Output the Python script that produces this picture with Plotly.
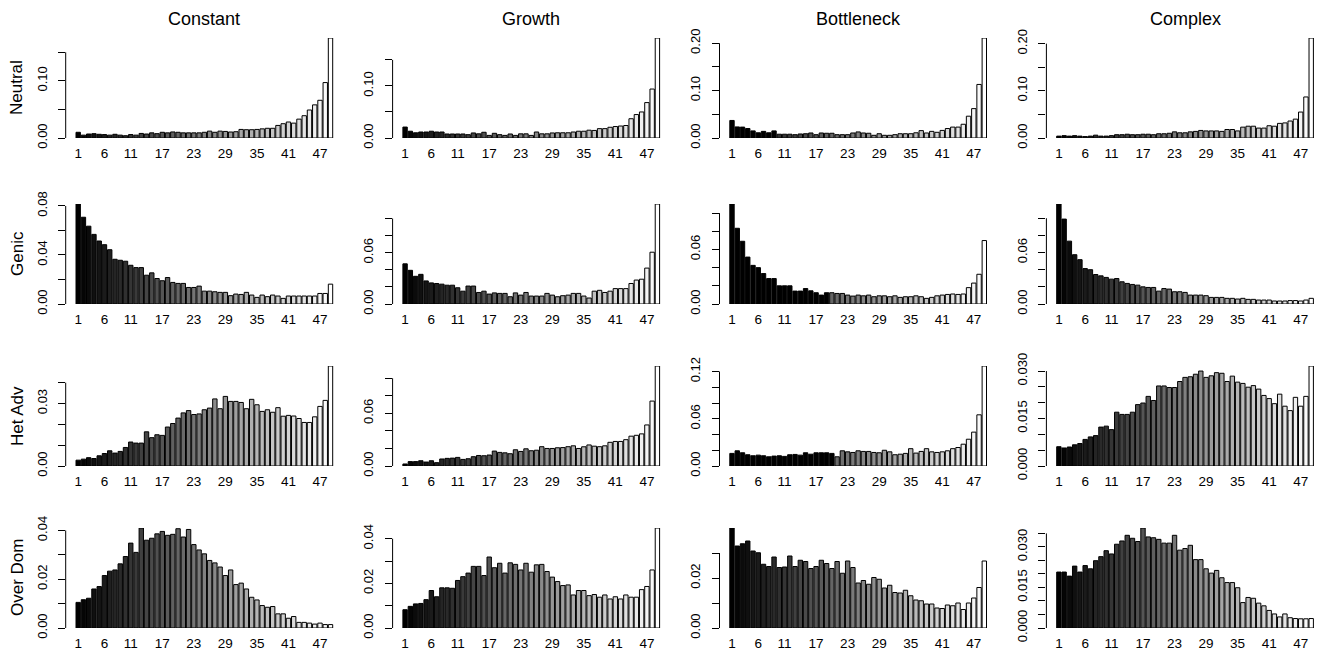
import plotly.graph_objects as go

# ---------------- data ----------------
bins = list(range(1, 50))
x_tick_values = [1, 6, 11, 17, 23, 29, 35, 41, 47]
column_titles = ["Constant", "Growth", "Bottleneck", "Complex"]
row_titles = ["Neutral", "Genic", "Het Adv", "Over Dom"]

neutral_constant = [0.010, 0.005, 0.007, 0.0076, 0.0065, 0.006, 0.005, 0.0065, 0.005, 0.004,
                    0.006, 0.005, 0.008, 0.007, 0.009, 0.0076, 0.010, 0.009, 0.0106, 0.010,
                    0.009, 0.009, 0.009, 0.009, 0.010, 0.012, 0.010, 0.012, 0.0115, 0.0105,
                    0.011, 0.015, 0.0145, 0.0145, 0.015, 0.016, 0.017, 0.017, 0.022, 0.025,
                    0.028, 0.026, 0.033, 0.039, 0.049, 0.058, 0.066, 0.097, 0.175]
neutral_growth = [0.021, 0.013, 0.010, 0.0115, 0.0115, 0.013, 0.0115, 0.0115, 0.0077, 0.0077,
                  0.0077, 0.0077, 0.0064, 0.0097, 0.008, 0.011, 0.005, 0.009, 0.0064, 0.005,
                  0.0077, 0.005, 0.008, 0.008, 0.005, 0.0115, 0.008, 0.008, 0.0097, 0.010,
                  0.010, 0.010, 0.0115, 0.013, 0.013, 0.015, 0.0145, 0.018, 0.018, 0.0206,
                  0.022, 0.023, 0.024, 0.037, 0.045, 0.050, 0.068, 0.094, 0.192]
neutral_bottleneck = [0.037, 0.0234, 0.023, 0.020, 0.015, 0.011, 0.014, 0.011, 0.015, 0.008,
                      0.008, 0.008, 0.007, 0.0085, 0.009, 0.0106, 0.007, 0.0106, 0.010, 0.010,
                      0.007, 0.007, 0.007, 0.0106, 0.0128, 0.0106, 0.010, 0.0057, 0.009, 0.0057,
                      0.0057, 0.007, 0.009, 0.009, 0.009, 0.011, 0.0156, 0.0106, 0.014, 0.012,
                      0.016, 0.020, 0.023, 0.023, 0.029, 0.046, 0.062, 0.113, 0.211]
neutral_complex = [0.004, 0.005, 0.004, 0.005, 0.004, 0.003, 0.004, 0.006, 0.004, 0.004,
                   0.005, 0.007, 0.007, 0.008, 0.007, 0.007, 0.008, 0.008, 0.007, 0.009,
                   0.009, 0.010, 0.013, 0.011, 0.011, 0.013, 0.014, 0.016, 0.015, 0.015,
                   0.015, 0.014, 0.018, 0.018, 0.015, 0.023, 0.025, 0.025, 0.021, 0.021,
                   0.026, 0.025, 0.031, 0.032, 0.036, 0.040, 0.055, 0.087, 0.212]

genic_constant = [0.0816, 0.0708, 0.0635, 0.0568, 0.0514, 0.0484, 0.0443, 0.0365, 0.0357, 0.0349,
                  0.0316, 0.0297, 0.0297, 0.0235, 0.0254, 0.0208, 0.019, 0.0216, 0.0176, 0.0168,
                  0.0168, 0.0135, 0.0135, 0.0146, 0.0105, 0.0105, 0.010, 0.0095, 0.0095, 0.0068,
                  0.0081, 0.0078, 0.0095, 0.0073, 0.0054, 0.0073, 0.006, 0.0073, 0.0065, 0.0046,
                  0.0065, 0.0065, 0.0065, 0.0065, 0.0065, 0.0065, 0.0086, 0.0086, 0.0162]
genic_growth = [0.047, 0.0394, 0.0324, 0.0347, 0.027, 0.0247, 0.024, 0.0232, 0.022, 0.022,
                0.019, 0.015, 0.021, 0.021, 0.0135, 0.015, 0.0116, 0.013, 0.0124, 0.0124,
                0.0085, 0.013, 0.0104, 0.0135, 0.0093, 0.0093, 0.0093, 0.0124, 0.0104, 0.0085,
                0.0097, 0.0104, 0.0124, 0.0124, 0.0093, 0.007, 0.015, 0.016, 0.0135, 0.015,
                0.018, 0.018, 0.018, 0.024, 0.028, 0.029, 0.042, 0.0606, 0.117]
genic_bottleneck = [0.110, 0.0833, 0.069, 0.0516, 0.0425, 0.040, 0.0335, 0.028, 0.028, 0.020,
                    0.020, 0.020, 0.0142, 0.0142, 0.017, 0.0145, 0.0124, 0.0098, 0.0124, 0.0124,
                    0.0116, 0.0116, 0.0098, 0.0087, 0.0098, 0.009, 0.0098, 0.008, 0.009, 0.009,
                    0.008, 0.009, 0.0073, 0.008, 0.008, 0.009, 0.008, 0.0062, 0.0073, 0.009,
                    0.0098, 0.0105, 0.011, 0.0105, 0.011, 0.018, 0.023, 0.0327, 0.0698]
genic_complex = [0.1166, 0.099, 0.0733, 0.0575, 0.0517, 0.0413, 0.040, 0.0344, 0.0328, 0.031,
                 0.029, 0.0297, 0.0259, 0.024, 0.0228, 0.022, 0.020, 0.0193, 0.0193, 0.015,
                 0.018, 0.0174, 0.0143, 0.0143, 0.0135, 0.0104, 0.0104, 0.0104, 0.0097, 0.0077,
                 0.0077, 0.0077, 0.0066, 0.0066, 0.0058, 0.0066, 0.0054, 0.0054, 0.0046, 0.0046,
                 0.0046, 0.0035, 0.0035, 0.0035, 0.004, 0.004, 0.0035, 0.0046, 0.0066]

hetadv_constant = [0.0028, 0.0033, 0.004, 0.0036, 0.0049, 0.006, 0.0073, 0.0062, 0.007, 0.0089,
                   0.0115, 0.011, 0.011, 0.0164, 0.0136, 0.015, 0.0147, 0.0187, 0.0204, 0.023,
                   0.0255, 0.0266, 0.0247, 0.025, 0.027, 0.0278, 0.0322, 0.0275, 0.0334, 0.031,
                   0.031, 0.0305, 0.0275, 0.032, 0.0294, 0.0262, 0.027, 0.0258, 0.028, 0.0239,
                   0.0243, 0.024, 0.0228, 0.0209, 0.0209, 0.0236, 0.0286, 0.0315, 0.048]
hetadv_growth = [0.0023, 0.005, 0.005, 0.006, 0.0045, 0.006, 0.0038, 0.008, 0.0087, 0.009,
                 0.0098, 0.0075, 0.0083, 0.0106, 0.012, 0.0117, 0.0125, 0.017, 0.0155, 0.015,
                 0.014, 0.0185, 0.0166, 0.0196, 0.0174, 0.018, 0.022, 0.020, 0.020, 0.0208,
                 0.021, 0.022, 0.023, 0.020, 0.0219, 0.024, 0.0226, 0.022, 0.023, 0.027,
                 0.028, 0.028, 0.030, 0.034, 0.035, 0.0366, 0.0468, 0.074, 0.114]
hetadv_bottleneck = [0.016, 0.0193, 0.0168, 0.0143, 0.013, 0.0138, 0.013, 0.0117, 0.0126, 0.013,
                     0.0122, 0.0143, 0.0147, 0.0138, 0.0168, 0.015, 0.0168, 0.0168, 0.0168, 0.016,
                     0.0117, 0.0193, 0.018, 0.0172, 0.0193, 0.0185, 0.0185, 0.0172, 0.0168, 0.020,
                     0.018, 0.0143, 0.015, 0.016, 0.022, 0.0164, 0.0185, 0.022, 0.018, 0.0172,
                     0.018, 0.0193, 0.022, 0.0235, 0.0277, 0.034, 0.043, 0.065, 0.127]
hetadv_complex = [0.0061, 0.0057, 0.006, 0.0067, 0.0071, 0.0084, 0.0092, 0.0096, 0.0123, 0.0126,
                  0.0115, 0.017, 0.0163, 0.0163, 0.017, 0.0194, 0.0199, 0.022, 0.0207, 0.0253,
                  0.0253, 0.0248, 0.0248, 0.0267, 0.028, 0.0282, 0.029, 0.030, 0.028, 0.0285,
                  0.0295, 0.0293, 0.0267, 0.0284, 0.0265, 0.0261, 0.0249, 0.0254, 0.0243, 0.0223,
                  0.0213, 0.0197, 0.0227, 0.0189, 0.0175, 0.0217, 0.0189, 0.022, 0.0316]

overdom_constant = [0.0105, 0.0116, 0.0122, 0.016, 0.017, 0.0215, 0.0233, 0.0238, 0.0263, 0.0293,
                    0.0348, 0.031, 0.041, 0.036, 0.0368, 0.0386, 0.0396, 0.038, 0.0384, 0.0407,
                    0.0373, 0.0404, 0.0342, 0.032, 0.0304, 0.0277, 0.0267, 0.025, 0.0215, 0.0238,
                    0.0178, 0.0184, 0.016, 0.0126, 0.0115, 0.0092, 0.0085, 0.0088, 0.0058, 0.0058,
                    0.004, 0.0047, 0.0023, 0.0023, 0.002, 0.0016, 0.002, 0.0014, 0.0014]
overdom_growth = [0.0082, 0.0097, 0.0108, 0.011, 0.0127, 0.0168, 0.014, 0.018, 0.018, 0.0178,
                  0.0213, 0.023, 0.0246, 0.0276, 0.0276, 0.0235, 0.0318, 0.027, 0.029, 0.0246,
                  0.0292, 0.0285, 0.026, 0.029, 0.025, 0.0283, 0.0285, 0.0253, 0.0228, 0.0208,
                  0.019, 0.0193, 0.0148, 0.0168, 0.0168, 0.0145, 0.015, 0.0138, 0.0148, 0.013,
                  0.014, 0.013, 0.0148, 0.0138, 0.0138, 0.0172, 0.0186, 0.026, 0.0448]
overdom_bottleneck = [0.040, 0.0328, 0.0337, 0.0348, 0.0308, 0.0301, 0.0255, 0.0246, 0.0284, 0.0242,
                      0.0244, 0.0288, 0.0246, 0.0271, 0.0266, 0.0238, 0.0246, 0.0271, 0.0258, 0.0238,
                      0.0266, 0.0219, 0.0268, 0.0242, 0.018, 0.019, 0.0175, 0.0202, 0.0195, 0.016,
                      0.0171, 0.0142, 0.014, 0.0151, 0.0129, 0.0112, 0.0109, 0.0096, 0.0096, 0.008,
                      0.0078, 0.0092, 0.0089, 0.010, 0.0074, 0.010, 0.012, 0.0162, 0.0268]
overdom_complex = [0.0207, 0.0207, 0.0192, 0.0229, 0.0207, 0.0231, 0.0219, 0.0249, 0.0264, 0.0286,
                   0.0274, 0.031, 0.0322, 0.0343, 0.0332, 0.032, 0.037, 0.0337, 0.0334, 0.0328,
                   0.0314, 0.0314, 0.0343, 0.0288, 0.0294, 0.0306, 0.0253, 0.0253, 0.0219, 0.0203,
                   0.0213, 0.0186, 0.0168, 0.0168, 0.0149, 0.0094, 0.0113, 0.011, 0.0092, 0.0082,
                   0.0065, 0.0052, 0.0041, 0.0052, 0.0038, 0.0035, 0.0034, 0.0034, 0.0035]

# y-axis ticks (values) and labels per panel (R-style skipped labels are blank)
ticks_neutral_a = [0.0, 0.05, 0.10, 0.15]
labels_neutral_a = ["0.00", "", "0.10", ""]
ticks_neutral_b = [0.0, 0.05, 0.10, 0.15, 0.20]
labels_neutral_b = ["0.00", "", "0.10", "", "0.20"]
ticks_008 = [0.0, 0.02, 0.04, 0.06, 0.08]
labels_008 = ["0.00", "", "0.04", "", "0.08"]
ticks_010 = [0.0, 0.02, 0.04, 0.06, 0.08, 0.10]
labels_010 = ["0.00", "", "", "0.06", "", ""]
ticks_004 = [0.0, 0.01, 0.02, 0.03, 0.04]
labels_004_het = ["0.00", "", "", "0.03", ""]
labels_004_od = ["0.00", "", "0.02", "", "0.04"]
ticks_012 = [0.0, 0.02, 0.04, 0.06, 0.08, 0.10, 0.12]
labels_012 = ["0.00", "", "", "0.06", "", "", "0.12"]
ticks_0030 = [0.0, 0.005, 0.010, 0.015, 0.020, 0.025, 0.030]
labels_0030 = ["0.000", "", "", "0.015", "", "", "0.030"]
ticks_003 = [0.0, 0.01, 0.02, 0.03]
labels_003 = ["0.00", "", "0.02", ""]
ticks_0035 = [0.0, 0.005, 0.010, 0.015, 0.020, 0.025, 0.030, 0.035]
labels_0035 = ["0.000", "", "", "0.015", "", "", "0.030", ""]

panel_values = [
    [neutral_constant, neutral_growth, neutral_bottleneck, neutral_complex],
    [genic_constant, genic_growth, genic_bottleneck, genic_complex],
    [hetadv_constant, hetadv_growth, hetadv_bottleneck, hetadv_complex],
    [overdom_constant, overdom_growth, overdom_bottleneck, overdom_complex],
]
panel_ticks = [
    [(ticks_neutral_a, labels_neutral_a), (ticks_neutral_a, labels_neutral_a),
     (ticks_neutral_b, labels_neutral_b), (ticks_neutral_b, labels_neutral_b)],
    [(ticks_008, labels_008), (ticks_010, labels_010), (ticks_010, labels_010), (ticks_010, labels_010)],
    [(ticks_004, labels_004_het), (ticks_010, labels_010), (ticks_012, labels_012), (ticks_0030, labels_0030)],
    [(ticks_004, labels_004_od), (ticks_004, labels_004_od), (ticks_003, labels_003), (ticks_0035, labels_0035)],
]

# ---------------- style ----------------
W, H = 1318, 654
FONT = "Liberation Sans, Arial, Helvetica, sans-serif"
black_lead = [[0, 0, 9, 0], [0, 0, 19, 0], [0, 0, 20, 0], [0, 0, 0, 0]]  # leading solid-black bars

col_bar_left = [76 + 326.9 * c for c in range(4)]   # px of first bar's left edge
bar_span_px = 256.7
row_base = [138, 304, 466, 628]                      # px of y=0
panel_h = 100
pad_px = 10.3
bar_w = 1 - 1 / 6
first_edge = 1 - bar_w / 2
units = 49 - 1 + bar_w
px_per_unit = bar_span_px / units


def grey(i, n, lead):
    if i < lead:
        return "rgb(0,0,0)"
    g = round(255 * i / (n - 1))
    return f"rgb({g},{g},{g})"


fig = go.Figure()
layout = {}
shapes = []
annotations = []

for r in range(4):
    for c in range(4):
        k = r * 4 + c + 1
        sfx = "" if k == 1 else str(k)
        xa, ya = "x" + sfx, "y" + sfx
        vals = panel_values[r][c]
        tv, tt = panel_ticks[r][c]
        colors = [grey(i, len(vals), black_lead[r][c]) for i in range(len(vals))]
        fig.add_trace(go.Bar(x=bins, y=vals, xaxis=xa, yaxis=ya,
                             marker=dict(color=colors, line=dict(color="black", width=1)),
                             showlegend=False, hoverinfo="skip"))
        B = col_bar_left[c]
        L = B - pad_px
        R = min(B + bar_span_px + pad_px, W)
        xr = [first_edge - (B - L) / px_per_unit, first_edge + (R - B) / px_per_unit]
        yb = row_base[r]
        layout["xaxis" + sfx] = dict(
            domain=[L / W, R / W], range=xr, anchor=ya,
            tickmode="array", tickvals=x_tick_values, ticktext=[str(v) for v in x_tick_values],
            ticks="", showline=False, showgrid=False, zeroline=False,
            tickfont=dict(family=FONT, size=13.5, color="black"), ticklabelstandoff=5,
        )
        layout["yaxis" + sfx] = dict(
            domain=[1 - yb / H, 1 - (yb - panel_h) / H], range=[0, max(vals)], anchor=xa,
            tickmode="array", tickvals=tv, ticktext=tt, ticks="outside", ticklen=7,
            tickwidth=1, tickcolor="black", tickangle=-90,
            showline=False, showgrid=False, zeroline=False,
            tickfont=dict(family=FONT, size=13, color="black"), ticklabelstandoff=6,
        )
        shapes.append(dict(type="line", xref=xa + " domain", yref=ya,
                           x0=0, x1=0, y0=tv[0], y1=tv[-1],
                           line=dict(color="black", width=1)))
        if r == 0:
            annotations.append(dict(text=column_titles[c], xref="paper", yref="paper",
                                    x=(B + bar_span_px / 2) / W, y=1 - 19 / H,
                                    xanchor="center", yanchor="middle", showarrow=False,
                                    font=dict(family=FONT, size=18, color="black")))
    annotations.append(dict(text=row_titles[r], xref="paper", yref="paper",
                            x=17 / W, y=1 - (row_base[r] - panel_h / 2) / H,
                            xanchor="center", yanchor="middle", textangle=-90, showarrow=False,
                            font=dict(family=FONT, size=17, color="black")))

fig.update_layout(**layout)
fig.update_layout(
    width=W, height=H, margin=dict(l=0, r=0, t=0, b=0, autoexpand=False),
    paper_bgcolor="white", plot_bgcolor="white",
    bargap=1 / 6, shapes=shapes, annotations=annotations,
    font=dict(family=FONT, color="black"),
)
fig.write_html(
    "out.html",
    config={"displayModeBar": False},
    post_script="document.body.style.margin='0';document.body.style.overflow='hidden';",
)
